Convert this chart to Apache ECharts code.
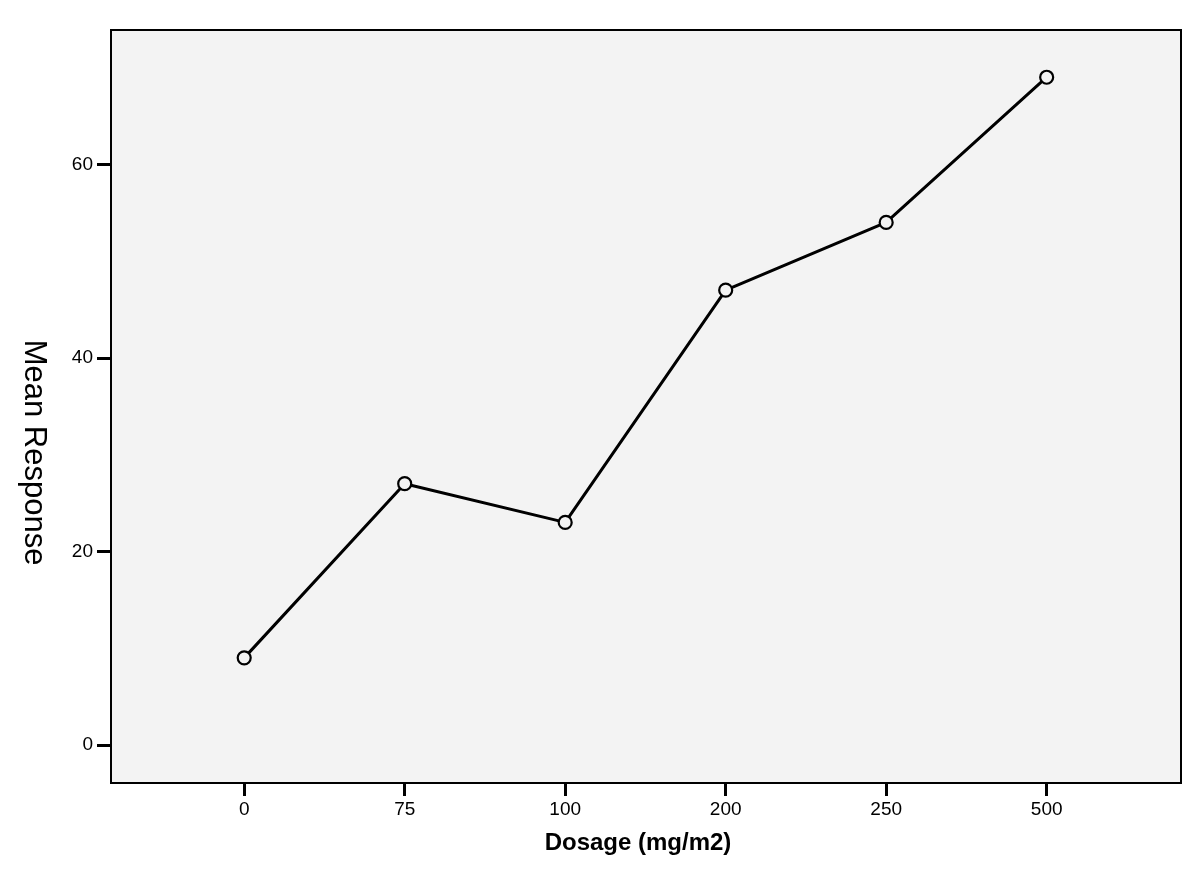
<!DOCTYPE html>
<html>
<head>
<meta charset="utf-8">
<style>html,body{margin:0;padding:0;background:#fff;}#chart{width:1200px;height:876px;}</style>
<script src="https://cdn.jsdelivr.net/npm/echarts@6/dist/echarts.min.js"></script>
</head>
<body>
<div id="chart"></div>
<script>
const categories = ['0', '75', '100', '200', '250', '500'];
const meanResponse = [9, 27, 23, 47, 54, 69];
const yTicks = [0, 20, 40, 60];
const xTitle = 'Dosage (mg/m2)';
const yTitle = 'Mean Response';

const xIdx = categories.map((c, i) => i);
const points = meanResponse.map((v, i) => [i, v]);
const font = '"Liberation Sans", Arial, sans-serif';

const chart = echarts.init(document.getElementById('chart'), null, {renderer: 'canvas'});
chart.setOption({
  animation: false,
  backgroundColor: '#ffffff',
  grid: {
    left: 111, top: 30, right: 19, bottom: 93,
    show: true, backgroundColor: '#f3f3f3', borderColor: '#000', borderWidth: 2,
    containLabel: false
  },
  xAxis: {
    type: 'value', min: -0.83, max: 5.837,
    axisLine: {show: true, onZero: false, lineStyle: {color: '#000', width: 2}},
    splitLine: {show: false},
    axisTick: {show: true, customValues: xIdx, length: 13, lineStyle: {color: '#000', width: 3}},
    axisLabel: {customValues: xIdx, formatter: v => categories[Math.round(v)], color: '#000',
      fontFamily: font, fontSize: 19, margin: 17},
    name: xTitle, nameLocation: 'middle', nameGap: 48,
    nameTextStyle: {fontFamily: font, fontSize: 24, fontWeight: 'bold', color: '#000', padding: [0, 16, 0, 0]}
  },
  yAxis: {
    type: 'value', min: -3.93, max: 73.88,
    axisLine: {show: true, onZero: false, lineStyle: {color: '#000', width: 2}},
    splitLine: {show: false},
    axisTick: {show: true, customValues: yTicks, length: 14, lineStyle: {color: '#000', width: 3}},
    axisLabel: {customValues: yTicks, color: '#000', fontFamily: font, fontSize: 19, margin: 18},
    name: yTitle, nameLocation: 'middle', nameGap: 62, nameRotate: -90,
    nameTextStyle: {fontFamily: font, fontSize: 31, color: '#000', padding: [0, 0, 0, 92]}
  },
  series: [{
    type: 'line',
    data: points,
    symbol: 'circle', symbolSize: 13,
    lineStyle: {color: '#000', width: 3},
    itemStyle: {color: '#f3f3f3', borderColor: '#000', borderWidth: 2.2},
    z: 3
  }]
});
</script>
</body>
</html>
